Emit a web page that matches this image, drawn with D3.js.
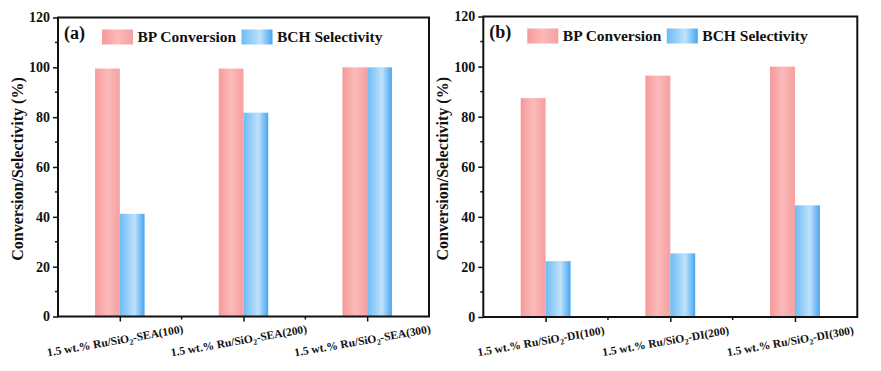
<!DOCTYPE html>
<html>
<head>
<meta charset="utf-8">
<script src="https://cdn.jsdelivr.net/npm/d3@7/dist/d3.min.js"></script>
<style>
  html, body { margin: 0; padding: 0; background: #fff; }
  svg { display: block; }
  text { font-family: "Liberation Serif", "Times New Roman", serif; font-weight: bold; fill: #111; }
</style>
</head>
<body>
<div id="chart"></div>
<script>
// ── Data ──────────────────────────────────────────────────────────────
const seriesNames = ["BP Conversion", "BCH Selectivity"];
const categoriesA = ["SEA(100)", "SEA(200)", "SEA(300)"];
const categoriesB = ["DI(100)", "DI(200)", "DI(300)"];
const bpA  = [99.5, 99.5, 100];
const bchA = [41.2, 81.8, 100];
const bpB  = [87.4, 96.4, 100];
const bchB = [22.3, 25.4, 44.6];
const yTicks = [0, 20, 40, 60, 80, 100, 120];
const yMinorTicks = [10, 30, 50, 70, 90, 110];

const W = 881, H = 371;
const svg = d3.select("#chart").append("svg").attr("width", W).attr("height", H);

// bar gradients
const defs = svg.append("defs");
function grad(id, stops) {
  const g = defs.append("linearGradient").attr("id", id)
    .attr("x1", "0%").attr("x2", "100%").attr("y1", "0%").attr("y2", "0%");
  stops.forEach(([o, c]) => g.append("stop").attr("offset", o).attr("stop-color", c));
}
grad("gPink", [["0%", "#f69a9a"], ["50%", "#fbbaba"], ["100%", "#f6a0a0"]]);
grad("gBlue", [["0%", "#6dbcf6"], ["45%", "#aad8fa"], ["60%", "#bfe2fb"], ["100%", "#45a5f1"]]);
const fills = ["url(#gPink)", "url(#gBlue)"];

function panel(cfg) {
  const { left, top, right, bottom, tag, cats, bp, bch } = cfg;
  const w = right - left, h = bottom - top;
  const g = svg.append("g").attr("transform", `translate(${left},${top})`);

  const x = d3.scalePoint().domain(cats).range([0, w]).padding(0.5);
  const step = x.step();
  const bw = step * 0.2;
  const y = d3.scaleLinear().domain([0, 120]).range([h, 0]);

  // bars
  const rows = cats.map((c, i) => ({ c, vals: [bp[i], bch[i]] }));
  rows.forEach(r => {
    r.vals.forEach((v, k) => {
      g.append("rect")
        .attr("x", x(r.c) - bw + k * bw)
        .attr("y", y(v))
        .attr("width", bw)
        .attr("height", h - y(v))
        .attr("fill", fills[k]);
    });
  });

  // y axis
  const yAxis = d3.axisLeft(y).tickValues(yTicks).tickSize(5).tickPadding(3);
  const ya = g.append("g").call(yAxis);
  ya.selectAll("text").attr("font-size", "14px").attr("font-family", null);
  ya.selectAll(".tick line").attr("stroke", "#111").attr("stroke-width", 1.5);
  ya.select(".domain").remove();
  g.selectAll(".yminor").data(yMinorTicks).join("line")
    .attr("x1", -3).attr("x2", 0)
    .attr("y1", d => y(d)).attr("y2", d => y(d))
    .attr("stroke", "#111").attr("stroke-width", 1.5);

  // x axis ticks
  const xa = d3.axisBottom(x).tickSize(5).tickFormat("");
  const xg = g.append("g").attr("transform", `translate(0,${h})`).call(xa);
  xg.selectAll(".tick line").attr("stroke", "#111").attr("stroke-width", 1.5);
  xg.select(".domain").remove();
  const bounds = cats.slice(1).map(c => x(c) - step / 2);
  g.selectAll(".xminor").data(bounds).join("line")
    .attr("x1", d => d).attr("x2", d => d)
    .attr("y1", h).attr("y2", h + 3)
    .attr("stroke", "#111").attr("stroke-width", 1.5);

  // x labels, slightly rotated
  cats.forEach(c => {
    const t = g.append("text")
      .attr("transform", `translate(${x(c) - 4},${h + 28}) rotate(-10)`)
      .attr("text-anchor", "middle")
      .attr("font-size", "11.5px");
    t.append("tspan").text("1.5 wt.% Ru/SiO");
    t.append("tspan").attr("font-size", "8px").attr("dy", 3).text("2");
    t.append("tspan").attr("dy", -3).text("-" + c);
  });

  // frame
  g.append("rect").attr("width", w).attr("height", h)
    .attr("fill", "none").attr("stroke", "#111").attr("stroke-width", 2);

  // y label
  g.append("text")
    .attr("transform", `translate(-41,${h / 2 + 2}) rotate(-90)`)
    .attr("text-anchor", "middle").attr("dy", "0.35em")
    .attr("font-size", "16px")
    .text("Conversion/Selectivity (%)");

  // panel tag
  g.append("text").attr("x", 6).attr("y", 21.5)
    .attr("font-size", "18px").text(tag);

  // legend
  const lx = [44, 183.5];
  seriesNames.forEach((s, k) => {
    g.append("rect").attr("x", lx[k]).attr("y", 12)
      .attr("width", 31).attr("height", 15).attr("fill", fills[k]);
    g.append("text").attr("x", lx[k] + 35.5).attr("y", 24.5)
      .attr("font-size", "15.5px").text(s);
  });
}

panel({ left: 58, top: 17.5, right: 429, bottom: 316.5, tag: "(a)", cats: categoriesA, bp: bpA, bch: bchA });
panel({ left: 483.3, top: 16.5, right: 857.3, bottom: 317, tag: "(b)", cats: categoriesB, bp: bpB, bch: bchB });
</script>
</body>
</html>
